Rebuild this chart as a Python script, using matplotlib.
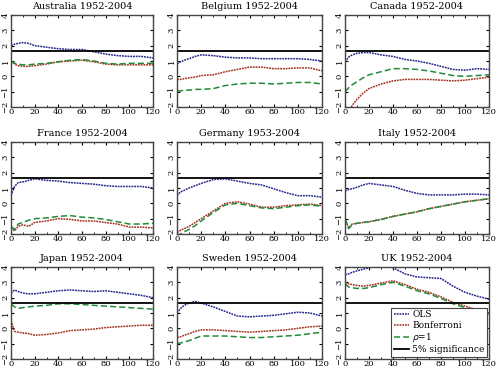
import matplotlib
matplotlib.use("Agg")
import matplotlib.pyplot as plt
from matplotlib.ticker import MultipleLocator

plt.rcParams['font.family'] = ['DejaVu Serif']

horizon = [0, 3, 6, 10, 15, 20, 30, 40, 50, 60, 70, 80, 90, 100, 110, 120]
crit = 1.645

titles = ["Australia 1952-2004", "Belgium 1952-2004", "Canada 1952-2004",
          "France 1952-2004", "Germany 1953-2004", "Italy 1952-2004",
          "Japan 1952-2004", "Sweden 1952-2004", "UK 1952-2004"]

ols = [
    [2.0, 2.1, 2.15, 2.2, 2.15, 2.0, 1.9, 1.8, 1.75, 1.75, 1.6, 1.45, 1.35, 1.3, 1.3, 1.2],
    [0.8, 0.95, 1.05, 1.15, 1.3, 1.4, 1.35, 1.25, 1.2, 1.2, 1.15, 1.15, 1.15, 1.15, 1.1, 1.0],
    [0.95, 1.25, 1.4, 1.5, 1.55, 1.55, 1.4, 1.3, 1.1, 1.0, 0.85, 0.65, 0.45, 0.4, 0.5, 0.45],
    [0.5, 1.1, 1.35, 1.4, 1.5, 1.6, 1.5, 1.45, 1.35, 1.3, 1.25, 1.15, 1.1, 1.1, 1.1, 1.0],
    [0.5, 0.75, 0.85, 1.0, 1.15, 1.3, 1.55, 1.6, 1.45, 1.3, 1.2, 0.95, 0.7, 0.5, 0.5, 0.4],
    [0.8, 0.9, 0.95, 1.05, 1.2, 1.3, 1.2, 1.1, 0.85, 0.65, 0.55, 0.55, 0.55, 0.6, 0.6, 0.55],
    [2.3, 2.5, 2.4, 2.3, 2.25, 2.25, 2.35, 2.45, 2.5, 2.45, 2.4, 2.45, 2.35, 2.25, 2.15, 2.0],
    [1.0, 1.3, 1.5, 1.65, 1.75, 1.65, 1.4, 1.1, 0.8, 0.75, 0.8, 0.85, 0.95, 1.05, 1.0, 0.8],
    [3.5, 3.55, 3.65, 3.75, 3.85, 3.95, 4.2, 3.95, 3.55, 3.35, 3.3, 3.25, 2.75, 2.35, 2.1, 1.9],
]

bonf = [
    [1.0, 0.8, 0.7, 0.65, 0.65, 0.7, 0.8, 0.95, 1.0, 1.05, 0.95, 0.8, 0.75, 0.75, 0.75, 0.75],
    [-0.2, -0.2, -0.15, -0.1, -0.05, 0.05, 0.1, 0.3, 0.45, 0.6, 0.6, 0.5, 0.5, 0.55, 0.55, 0.35],
    [-3.0, -2.4, -1.9, -1.5, -1.1, -0.8, -0.5, -0.3, -0.2, -0.2, -0.2, -0.25, -0.3, -0.25, -0.15, -0.05],
    [-1.6, -1.8, -1.5, -1.4, -1.5, -1.25, -1.15, -1.0, -1.05, -1.15, -1.15, -1.25, -1.35, -1.55, -1.55, -1.6],
    [-1.9, -1.75, -1.65, -1.5, -1.25, -1.0, -0.5, 0.0, 0.1, -0.05, -0.25, -0.25, -0.15, -0.1, -0.05, -0.15],
    [-1.0, -1.6, -1.35, -1.3, -1.25, -1.2, -1.05, -0.85, -0.7, -0.55, -0.35, -0.2, -0.05, 0.1, 0.2, 0.3],
    [0.5, -0.2, -0.25, -0.3, -0.35, -0.45, -0.4, -0.3, -0.15, -0.1, -0.05, 0.05, 0.1, 0.15, 0.2, 0.2],
    [-0.6, -0.55, -0.45, -0.35, -0.2, -0.1, -0.1, -0.15, -0.2, -0.25, -0.2, -0.15, -0.1, 0.0, 0.1, 0.15],
    [3.0, 2.9, 2.85, 2.8, 2.75, 2.8, 2.95, 3.1, 2.85, 2.55, 2.35, 2.05, 1.7, 1.45, 1.2, 1.0],
]

rho1 = [
    [1.0, 0.85, 0.8, 0.75, 0.75, 0.8, 0.85, 0.95, 1.05, 1.1, 1.0, 0.85, 0.8, 0.85, 0.85, 0.85],
    [-0.95, -0.95, -0.9, -0.9, -0.85, -0.85, -0.8, -0.6, -0.5, -0.45, -0.45, -0.5, -0.45, -0.4, -0.4, -0.5],
    [-1.0, -0.75, -0.55, -0.35, -0.1, 0.1, 0.3, 0.5, 0.5, 0.45, 0.35, 0.2, 0.05, 0.0, 0.05, 0.1],
    [-1.5, -1.7, -1.35, -1.25, -1.1, -1.0, -0.95, -0.85, -0.8, -0.9, -0.95, -1.05, -1.2, -1.35, -1.35, -1.3],
    [-2.2, -2.0, -1.85, -1.7, -1.45, -1.15, -0.6, -0.1, 0.0, -0.15, -0.3, -0.35, -0.25, -0.15, -0.1, -0.2],
    [-1.0, -1.65, -1.4, -1.3, -1.25, -1.2, -1.05, -0.85, -0.7, -0.55, -0.35, -0.2, -0.05, 0.1, 0.2, 0.3],
    [1.6, 1.4, 1.3, 1.35, 1.4, 1.45, 1.5, 1.6, 1.6, 1.55, 1.5, 1.45, 1.4, 1.35, 1.3, 1.25],
    [-1.0, -0.95, -0.9, -0.8, -0.65, -0.5, -0.5, -0.5, -0.55, -0.6, -0.6, -0.55, -0.5, -0.45, -0.35, -0.25],
    [2.9, 2.7, 2.65, 2.6, 2.6, 2.65, 2.85, 3.0, 2.75, 2.45, 2.25, 1.95, 1.6, 1.35, 1.1, 0.95],
]

fig = plt.figure(figsize=(4.99, 3.68), dpi=100)

W, H = 499.0, 368.0
lefts = [11, 177, 345]
widths = [142, 145, 144]
tops = [15, 142, 267]
heights = [92, 92, 92]

for i in range(9):
    r, c = divmod(i, 3)
    ax = fig.add_axes([lefts[c] / W, 1 - (tops[r] + heights[r]) / H,
                       widths[c] / W, heights[r] / H])
    ax.plot(horizon, ols[i], color='#23238e', ls=(0, (1.2, 0.6)), lw=1.1, label='OLS')
    ax.plot(horizon, bonf[i], color='#a0301c', ls=(0, (1.2, 0.6)), lw=1.1, label='Bonferroni')
    ax.plot(horizon, rho1[i], color='#228b3a', ls=(0, (4, 2)), lw=1.1, label=r'$\rho$=1')
    ax.axhline(crit, color='black', lw=1.3, label='5% significance')
    ax.set_xlim(0, 120)
    ax.set_ylim(-2, 4)
    ax.xaxis.set_major_locator(MultipleLocator(20))
    ax.xaxis.set_minor_locator(MultipleLocator(10))
    ax.yaxis.set_major_locator(MultipleLocator(1))
    ax.tick_params(direction='in', which='both', top=True, right=True,
                   labelsize=6, length=2.5, pad=1)
    ax.tick_params(which='minor', length=1.5)
    for lab in ax.get_yticklabels():
        lab.set_rotation(90)
        lab.set_va('center')
    for s in ax.spines.values():
        s.set_linewidth(1.0)
        s.set_color('#444444')
    ax.set_title(titles[i], fontsize=7, pad=4)
    if i == 8:
        leg = ax.legend(loc='lower right', fontsize=6.5, handlelength=1.6,
                        handletextpad=0.4, borderpad=0.3, labelspacing=0.15,
                        fancybox=False, framealpha=1, borderaxespad=0.2)
        leg.get_frame().set_edgecolor('#444444')
        leg.get_frame().set_linewidth(0.8)

fig.savefig('out.png', dpi=100)
